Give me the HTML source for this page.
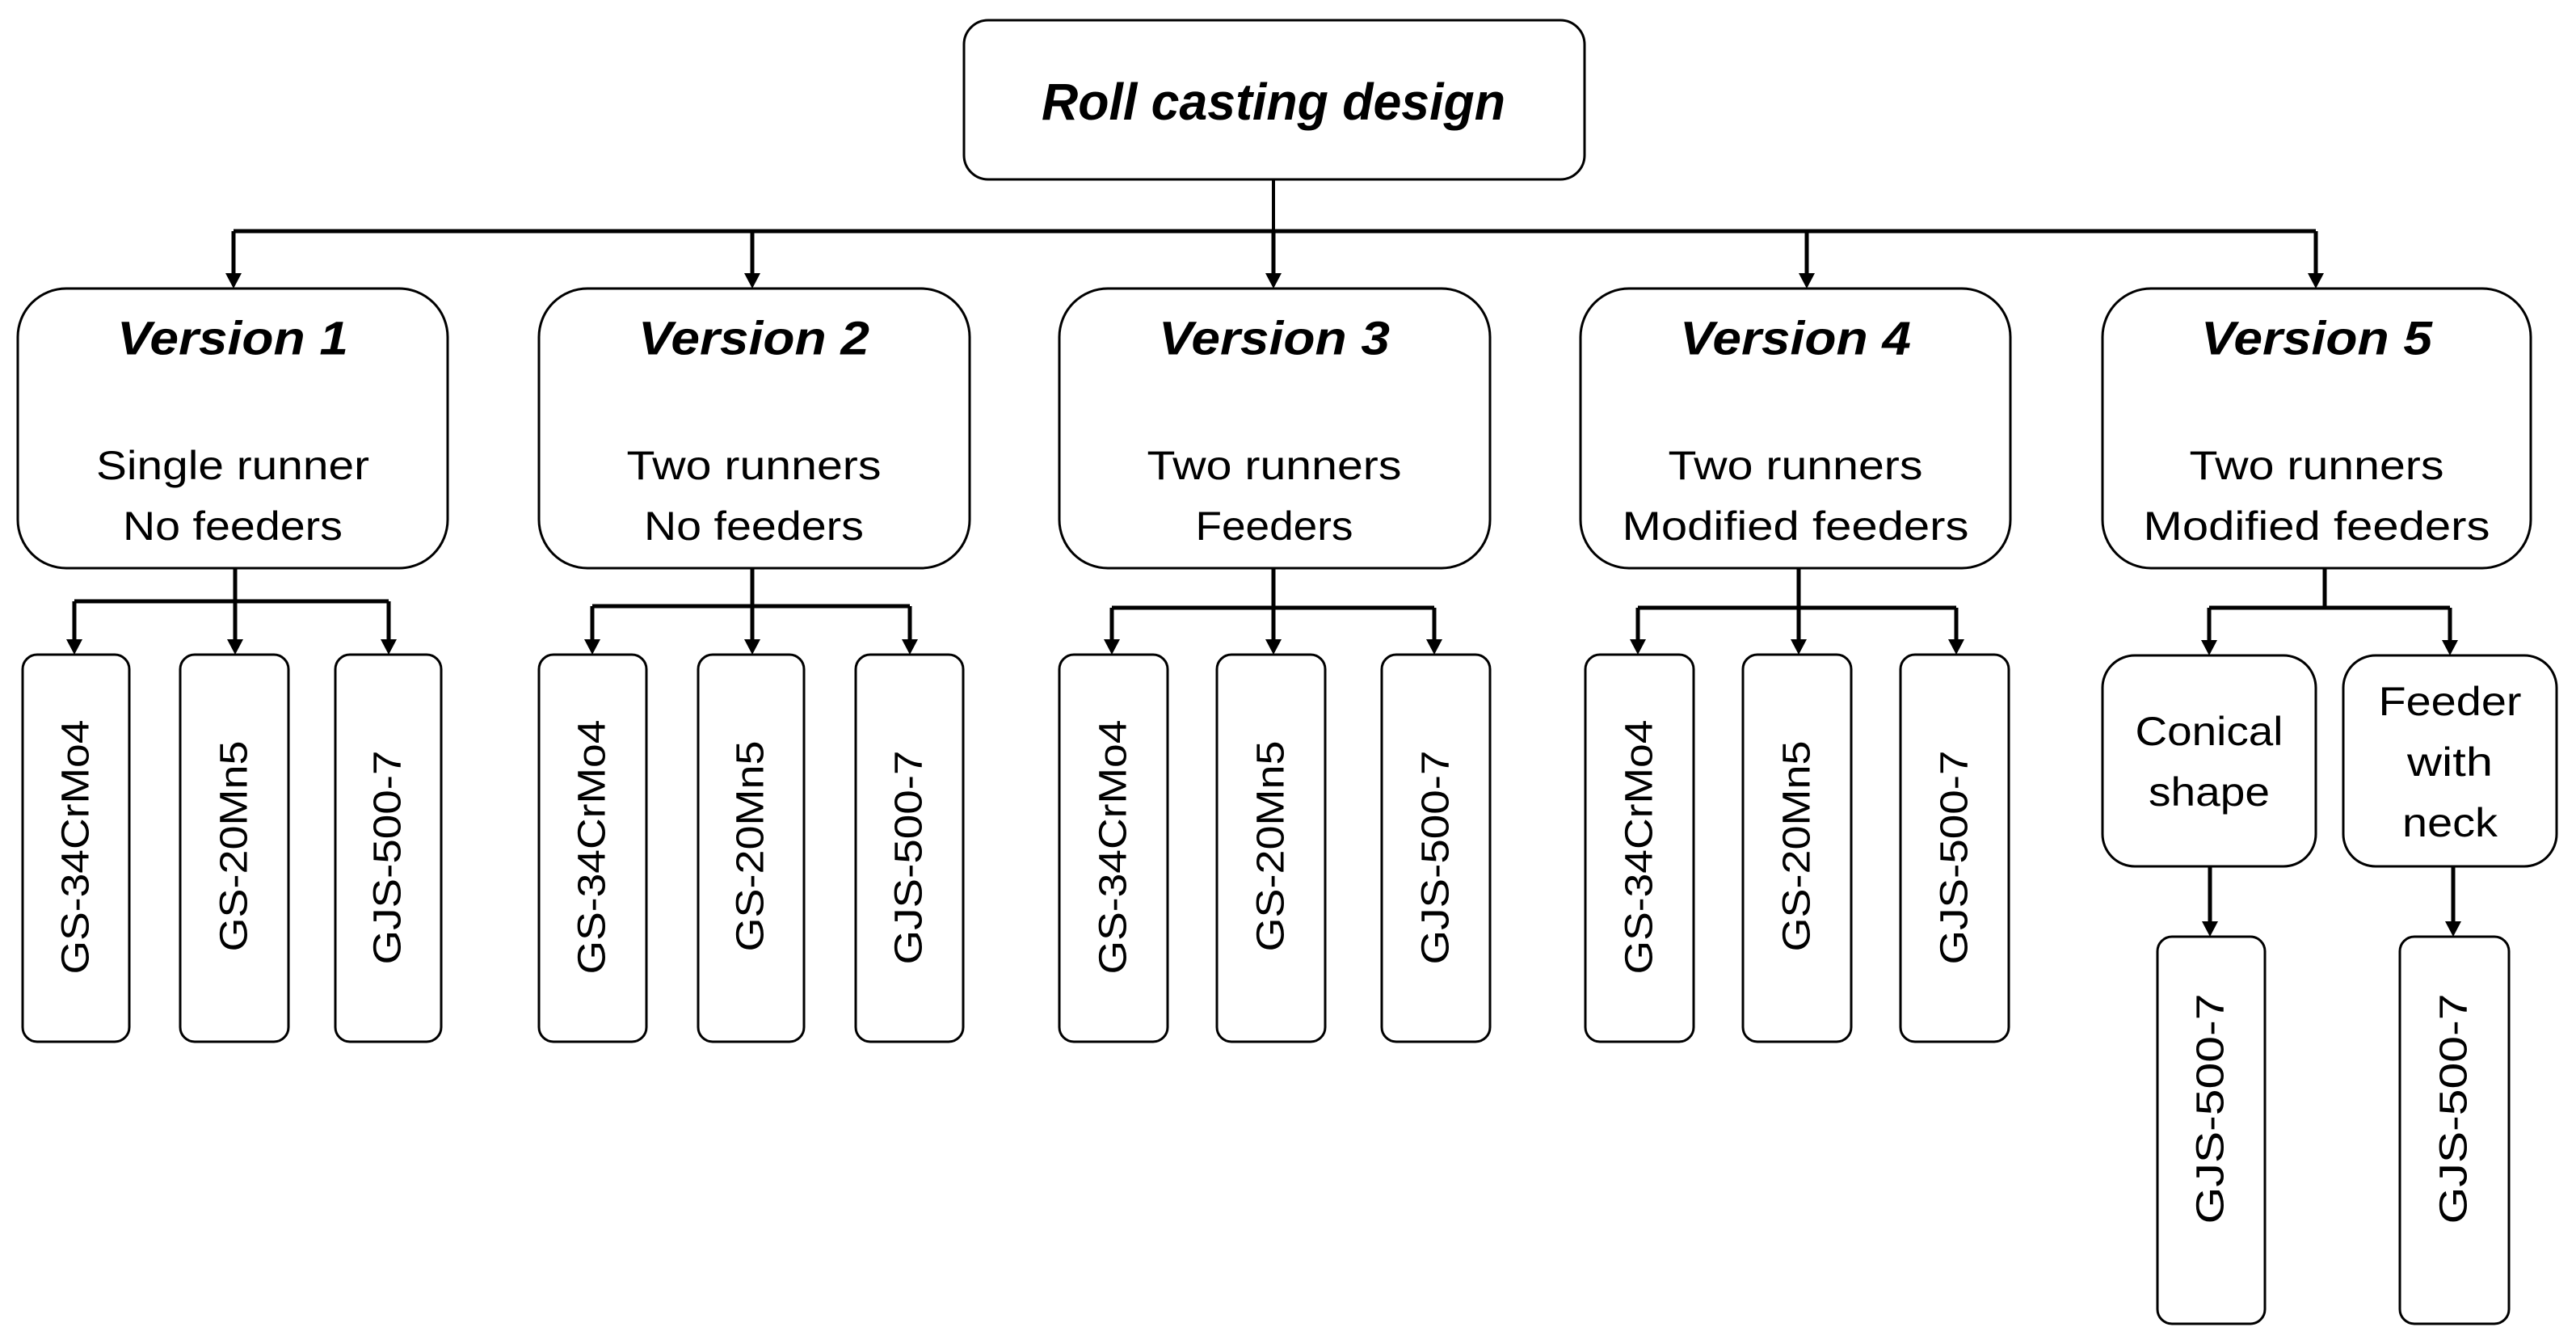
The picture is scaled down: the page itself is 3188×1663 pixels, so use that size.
<!DOCTYPE html>
<html><head><meta charset="utf-8"><style>html,body{margin:0;padding:0;background:#fff}svg{display:block}</style></head>
<body>
<svg width="3188" height="1663" viewBox="0 0 3188 1663" xmlns="http://www.w3.org/2000/svg" font-family="'Liberation Sans', sans-serif">
<defs>
<marker id="a" markerWidth="10" markerHeight="10" refX="5" refY="9" orient="auto" markerUnits="userSpaceOnUse" viewBox="0 0 10 10">
</marker>
</defs>
<g fill="none" stroke="#000" stroke-width="3">
<rect x="1193" y="25" width="768" height="197" rx="30"/>
<rect x="22" y="357" width="532" height="346" rx="60"/>
<rect x="667" y="357" width="533" height="346" rx="60"/>
<rect x="1311" y="357" width="533" height="346" rx="60"/>
<rect x="1956" y="357" width="532" height="346" rx="60"/>
<rect x="2602" y="357" width="530" height="346" rx="60"/>
<!-- small boxes -->
<rect x="28" y="810" width="132" height="479" rx="18"/>
<rect x="223" y="810" width="134" height="479" rx="18"/>
<rect x="415" y="810" width="131" height="479" rx="18"/>
<rect x="667" y="810" width="133" height="479" rx="18"/>
<rect x="864" y="810" width="131" height="479" rx="18"/>
<rect x="1059" y="810" width="133" height="479" rx="18"/>
<rect x="1311" y="810" width="134" height="479" rx="18"/>
<rect x="1506" y="810" width="134" height="479" rx="18"/>
<rect x="1710" y="810" width="134" height="479" rx="18"/>
<rect x="1962" y="810" width="134" height="479" rx="18"/>
<rect x="2157" y="810" width="134" height="479" rx="18"/>
<rect x="2352" y="810" width="134" height="479" rx="18"/>
<rect x="2602" y="811" width="264" height="261" rx="40"/>
<rect x="2900" y="811" width="264" height="261" rx="40"/>
<rect x="2670" y="1159" width="133" height="479" rx="18"/>
<rect x="2970" y="1159" width="135" height="479" rx="18"/>
</g>
<g stroke="#000" stroke-width="5" fill="none">
<line x1="1576" y1="222" x2="1576" y2="286" stroke-width="4"/>
<line x1="289" y1="286" x2="2866" y2="286"/>
<path d="M289 286V340M931 286V340M1576 286V340M2236 286V340M2866 286V340"/>
<!-- V1 -->
<line x1="291" y1="703" x2="291" y2="744"/>
<line x1="92" y1="744" x2="481" y2="744"/>
<path d="M92 744V793M291 744V793M481 744V793"/>
<line x1="931" y1="703" x2="931" y2="750"/>
<line x1="733" y1="750" x2="1126" y2="750"/>
<path d="M733 750V793M931 750V793M1126 750V793"/>
<line x1="1576" y1="703" x2="1576" y2="752"/>
<line x1="1376" y1="752" x2="1775" y2="752"/>
<path d="M1376 752V793M1576 752V793M1775 752V793"/>
<line x1="2226" y1="703" x2="2226" y2="752"/>
<line x1="2027" y1="752" x2="2421" y2="752"/>
<path d="M2027 752V793M2226 752V793M2421 752V793"/>
<line x1="2877" y1="703" x2="2877" y2="752"/>
<line x1="2734" y1="752" x2="3032" y2="752"/>
<path d="M2734 752V794M3032 752V794"/>
<path d="M2735 1072V1142M3036 1072V1142"/>
</g>
<g fill="#000">
<path d="M279 338h20l-10 19z M921 338h20l-10 19z M1566 338h20l-10 19z M2226 338h20l-10 19z M2856 338h20l-10 19z"/>
<path d="M82 791h20l-10 19z M281 791h20l-10 19z M471 791h20l-10 19z"/>
<path d="M723 791h20l-10 19z M921 791h20l-10 19z M1116 791h20l-10 19z"/>
<path d="M1366 791h20l-10 19z M1566 791h20l-10 19z M1765 791h20l-10 19z"/>
<path d="M2017 791h20l-10 19z M2216 791h20l-10 19z M2411 791h20l-10 19z"/>
<path d="M2724 792h20l-10 19z M3022 792h20l-10 19z"/>
<path d="M2725 1140h20l-10 19z M3026 1140h20l-10 19z"/>
</g>
<g fill="#000" text-anchor="middle" dominant-baseline="central" font-weight="bold" font-style="italic" font-size="64">
<text x="1576" y="126" textLength="574" lengthAdjust="spacingAndGlyphs">Roll casting design</text>
<g font-size="58">
<text x="288" y="419" textLength="286" lengthAdjust="spacingAndGlyphs">Version  1</text>
<text x="933" y="419" textLength="286" lengthAdjust="spacingAndGlyphs">Version  2</text>
<text x="1577" y="419" textLength="286" lengthAdjust="spacingAndGlyphs">Version  3</text>
<text x="2222" y="419" textLength="286" lengthAdjust="spacingAndGlyphs">Version  4</text>
<text x="2867" y="419" textLength="286" lengthAdjust="spacingAndGlyphs">Version  5</text>
</g>
</g>
<g fill="#000" text-anchor="middle" dominant-baseline="central" font-size="50">
<text x="288" y="576" textLength="338" lengthAdjust="spacingAndGlyphs">Single runner</text>
<text x="288" y="651" textLength="272" lengthAdjust="spacingAndGlyphs">No feeders</text>
<text x="933" y="576" textLength="315" lengthAdjust="spacingAndGlyphs">Two runners</text>
<text x="933" y="651" textLength="272" lengthAdjust="spacingAndGlyphs">No feeders</text>
<text x="1577" y="576" textLength="315" lengthAdjust="spacingAndGlyphs">Two runners</text>
<text x="1577" y="651" textLength="195" lengthAdjust="spacingAndGlyphs">Feeders</text>
<text x="2222" y="576" textLength="315" lengthAdjust="spacingAndGlyphs">Two runners</text>
<text x="2222" y="651" textLength="429" lengthAdjust="spacingAndGlyphs">Modified feeders</text>
<text x="2867" y="576" textLength="315" lengthAdjust="spacingAndGlyphs">Two runners</text>
<text x="2867" y="651" textLength="429" lengthAdjust="spacingAndGlyphs">Modified feeders</text>
<text x="2734" y="905" textLength="183" lengthAdjust="spacingAndGlyphs">Conical</text>
<text x="2734" y="980" textLength="150" lengthAdjust="spacingAndGlyphs">shape</text>
<text x="3032" y="868" textLength="177" lengthAdjust="spacingAndGlyphs">Feeder</text>
<text x="3032" y="943" textLength="106" lengthAdjust="spacingAndGlyphs">with</text>
<text x="3032" y="1018" textLength="118" lengthAdjust="spacingAndGlyphs">neck</text>
<g font-size="48">
<text transform="translate(94,1048) rotate(-90)" textLength="315" lengthAdjust="spacingAndGlyphs">GS-34CrMo4</text>
<text transform="translate(290,1047) rotate(-90)" textLength="261" lengthAdjust="spacingAndGlyphs">GS-20Mn5</text>
<text transform="translate(480,1061) rotate(-90)" textLength="265" lengthAdjust="spacingAndGlyphs">GJS-500-7</text>
<text transform="translate(733,1048) rotate(-90)" textLength="315" lengthAdjust="spacingAndGlyphs">GS-34CrMo4</text>
<text transform="translate(929,1047) rotate(-90)" textLength="261" lengthAdjust="spacingAndGlyphs">GS-20Mn5</text>
<text transform="translate(1125,1061) rotate(-90)" textLength="265" lengthAdjust="spacingAndGlyphs">GJS-500-7</text>
<text transform="translate(1378,1048) rotate(-90)" textLength="315" lengthAdjust="spacingAndGlyphs">GS-34CrMo4</text>
<text transform="translate(1573,1047) rotate(-90)" textLength="261" lengthAdjust="spacingAndGlyphs">GS-20Mn5</text>
<text transform="translate(1777,1061) rotate(-90)" textLength="265" lengthAdjust="spacingAndGlyphs">GJS-500-7</text>
<text transform="translate(2029,1048) rotate(-90)" textLength="315" lengthAdjust="spacingAndGlyphs">GS-34CrMo4</text>
<text transform="translate(2224,1047) rotate(-90)" textLength="261" lengthAdjust="spacingAndGlyphs">GS-20Mn5</text>
<text transform="translate(2419,1061) rotate(-90)" textLength="265" lengthAdjust="spacingAndGlyphs">GJS-500-7</text>
<text transform="translate(2736,1372) rotate(-90)" textLength="285" lengthAdjust="spacingAndGlyphs">GJS-500-7</text>
<text transform="translate(3037,1372) rotate(-90)" textLength="285" lengthAdjust="spacingAndGlyphs">GJS-500-7</text>
</g>
</g>
</svg>
</body></html>
